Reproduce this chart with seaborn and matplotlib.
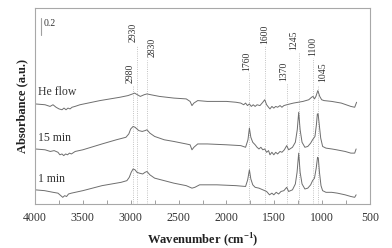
import numpy as np
import pandas as pd
import matplotlib
matplotlib.use('Agg')
import matplotlib.pyplot as plt
from matplotlib.ticker import MultipleLocator
import seaborn as sns

# wavenumbers (cm-1) and absorbance, offset spectra
he_w = [4000, 3895, 3843, 3812, 3780, 3749, 3718, 3697, 3676, 3655, 3634, 3613, 3582, 3530,
        3321, 3112, 3028, 2980, 2960, 2930, 2900, 2860, 2830, 2790, 2700, 2550, 2420, 2380,
        2360, 2340, 2300, 2200, 2000, 1900, 1850, 1820, 1800, 1780, 1760, 1740, 1720, 1700,
        1680, 1650, 1620, 1600, 1580, 1560, 1545, 1525, 1505, 1485, 1465, 1440, 1420, 1400,
        1370, 1300, 1200, 1140, 1110, 1095, 1080, 1065, 1045, 1025, 1005, 980, 900, 800,
        700, 660, 640]
he_a = [1.20, 1.19, 1.17, 1.19, 1.16, 1.14, 1.13, 1.15, 1.13, 1.15, 1.14, 1.16, 1.17, 1.19,
        1.24, 1.28, 1.30, 1.32, 1.33, 1.31, 1.29, 1.31, 1.32, 1.31, 1.29, 1.27, 1.26, 1.23,
        1.18, 1.21, 1.24, 1.23, 1.23, 1.22, 1.21, 1.19, 1.21, 1.18, 1.20, 1.17, 1.19, 1.17,
        1.19, 1.18, 1.22, 1.25, 1.19, 1.16, 1.14, 1.17, 1.15, 1.17, 1.16, 1.18, 1.16, 1.18,
        1.19, 1.21, 1.23, 1.25, 1.28, 1.29, 1.26, 1.29, 1.36, 1.29, 1.25, 1.24, 1.23, 1.21,
        1.17, 1.16, 1.22]

m15_w = [4000, 3895, 3840, 3800, 3760, 3740, 3718, 3700, 3680, 3660, 3640, 3620, 3580, 3500,
         3300, 3150, 3050, 3020, 3000, 2975, 2955, 2935, 2915, 2880, 2850, 2830, 2800, 2750,
         2650, 2550, 2420, 2380, 2360, 2340, 2300, 2200, 2000, 1850, 1800, 1775, 1760, 1745,
         1725, 1700, 1680, 1660, 1640, 1620, 1600, 1580, 1560, 1545, 1525, 1505, 1485, 1465,
         1440, 1420, 1395, 1370, 1350, 1310, 1280, 1260, 1245, 1230, 1210, 1180, 1150, 1120,
         1100, 1075, 1060, 1050, 1042, 1030, 1015, 995, 960, 900, 850, 760, 700, 660, 645]
m15_a = [0.66, 0.65, 0.63, 0.64, 0.62, 0.59, 0.60, 0.58, 0.60, 0.59, 0.61, 0.60, 0.63, 0.65,
         0.72, 0.77, 0.80, 0.84, 0.90, 0.93, 0.92, 0.90, 0.88, 0.87, 0.88, 0.89, 0.85, 0.81,
         0.77, 0.75, 0.72, 0.71, 0.65, 0.68, 0.72, 0.72, 0.71, 0.70, 0.68, 0.77, 0.91, 0.80,
         0.74, 0.71, 0.68, 0.66, 0.68, 0.65, 0.66, 0.62, 0.64, 0.59, 0.62, 0.59, 0.62, 0.60,
         0.63, 0.62, 0.65, 0.70, 0.65, 0.68, 0.74, 0.89, 1.10, 0.89, 0.74, 0.68, 0.69, 0.73,
         0.77, 0.81, 0.95, 1.08, 1.08, 0.95, 0.79, 0.69, 0.67, 0.66, 0.65, 0.63, 0.61, 0.61, 0.66]

m1_w = [4000, 3900, 3810, 3760, 3730, 3710, 3690, 3670, 3650, 3620, 3580, 3500, 3300, 3100,
        3040, 3015, 2995, 2975, 2955, 2935, 2910, 2875, 2850, 2830, 2800, 2750, 2650, 2550,
        2420, 2380, 2360, 2330, 2280, 2100, 1900, 1800, 1778, 1760, 1745, 1725, 1700, 1660,
        1620, 1580, 1550, 1525, 1505, 1480, 1455, 1430, 1400, 1370, 1350, 1310, 1280, 1262,
        1245, 1230, 1210, 1180, 1150, 1120, 1100, 1080, 1062, 1048, 1040, 1028, 1012, 995,
        960, 900, 840, 760, 700, 660, 645]
m1_a = [0.17, 0.16, 0.14, 0.13, 0.10, 0.08, 0.10, 0.09, 0.12, 0.13, 0.14, 0.16, 0.22, 0.26,
        0.28, 0.32, 0.38, 0.42, 0.41, 0.38, 0.37, 0.36, 0.38, 0.39, 0.35, 0.31, 0.28, 0.25,
        0.22, 0.20, 0.19, 0.20, 0.23, 0.23, 0.22, 0.21, 0.29, 0.41, 0.30, 0.23, 0.20, 0.19,
        0.17, 0.15, 0.11, 0.13, 0.11, 0.14, 0.12, 0.15, 0.16, 0.20, 0.15, 0.17, 0.24, 0.38,
        0.61, 0.38, 0.24, 0.18, 0.19, 0.23, 0.28, 0.31, 0.43, 0.56, 0.55, 0.38, 0.22, 0.16,
        0.14, 0.14, 0.13, 0.11, 0.09, 0.08, 0.11]

samples = ['He flow', '15 min', '1 min']
label_y = [1.27, 0.72, 0.23]

peaks = [2980, 2930, 2830, 1760, 1600, 1370, 1245, 1100, 1045]
# top of the dotted guide / bottom of each peak label
peak_top = [1.45, 1.94, 1.76, 1.60, 1.92, 1.48, 1.85, 1.78, 1.46]
peak_dx = [27, 46, -50, 25, 0, 28, 48, 0, -55]

df = pd.concat([
    pd.DataFrame({'wn': he_w, 'abs': he_a, 'sample': 'He flow'}),
    pd.DataFrame({'wn': m15_w, 'abs': m15_a, 'sample': '15 min'}),
    pd.DataFrame({'wn': m1_w, 'abs': m1_a, 'sample': '1 min'}),
])

sns.set_style('white')
plt.rcParams['font.family'] = ['Liberation Serif', 'DejaVu Serif']
plt.rcParams['mathtext.fontset'] = 'custom'
plt.rcParams['mathtext.rm'] = 'Liberation Serif'
plt.rcParams['mathtext.bf'] = 'Liberation Serif:bold'

fig = plt.figure(figsize=(3.92, 2.48), dpi=100)
ax = fig.add_axes([35 / 392, 44 / 248, 335 / 392, 196 / 248])

grey = '#6e6e6e'
sns.lineplot(data=df, x='wn', y='abs', units='sample', estimator=None,
             color=grey, linewidth=0.7, ax=ax, legend=False)

for p, top, dx in zip(peaks, peak_top, peak_dx):
    ax.plot([p, p], [0, top - 0.03], ls=':', color='#b0b0b0', lw=0.6, zorder=0)
    ax.text(p + dx, top, str(p), rotation=90, ha='center', va='bottom',
            fontsize=7, color='#333333')

for s, y in zip(samples, label_y):
    ax.text(3970, y, s, ha='left', va='bottom', fontsize=8.5, color='#333333')

# 0.2 absorbance scale bar
ax.plot([3940, 3940], [2.03, 2.23], color='#a0a0a0', lw=0.8)
ax.text(3915, 2.17, '0.2', ha='left', va='center', fontsize=7, color='#333333')

ax.set_xlim(4000, 500)
ax.set_ylim(0, 2.35)
ax.xaxis.set_major_locator(MultipleLocator(500))
ax.xaxis.set_minor_locator(MultipleLocator(250))
ax.tick_params(axis='x', which='both', direction='in', length=3, width=0.6,
               color='#909090', labelsize=8.5, labelcolor='#333333', pad=6, bottom=True)
ax.set_yticks([])
for sp in ax.spines.values():
    sp.set_color('#a8a8a8')
    sp.set_linewidth(0.8)

ax.set_xlabel(r'Wavenumber (cm$^{\mathbf{-1}}$)', fontsize=9, fontweight='bold',
              color='#222222', labelpad=5)
ax.set_ylabel('Absorbance (a.u.)', fontsize=9, fontweight='bold',
              color='#222222', labelpad=5)

fig.savefig('out.png', dpi=100)
